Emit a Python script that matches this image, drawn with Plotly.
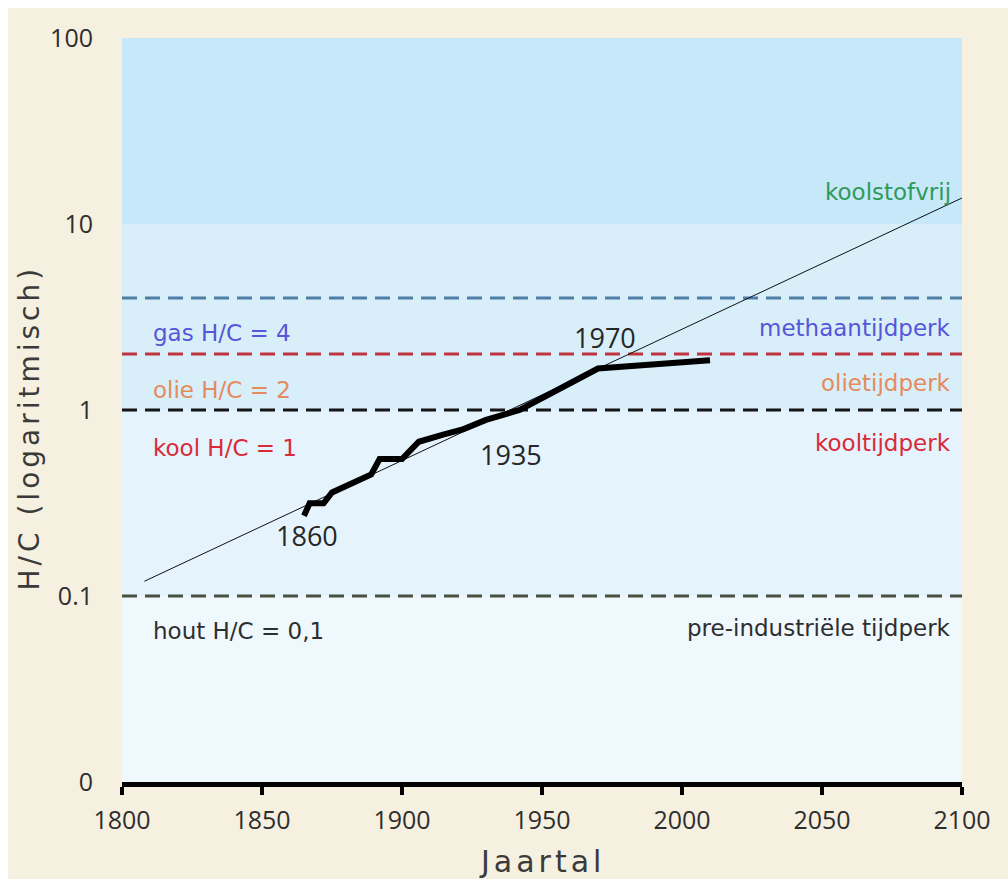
import numpy as np
import plotly.graph_objects as go

# Historical hydrogen/carbon ratio of the fuel mix
years = [1865, 1867, 1872, 1875, 1889, 1892, 1900, 1906, 1915, 1922, 1930, 1942, 1970, 2010]
hc_ratio = [0.27, 0.315, 0.315, 0.36, 0.45, 0.545, 0.545, 0.675, 0.74, 0.79, 0.885, 1.0, 1.67, 1.85]

# Long-term exponential trend (straight on a log axis)
trend_years = [1808, 2100]
trend_hc = [0.12, 13.8]

# Fuel reference levels (H/C)
fuel_levels = [4, 2, 1, 0.1]
fuel_colors = ["#4f7ea6", "#bf3440", "#151515", "#4a5142"]

# Background era bands
band_edges = [0.01, 0.1, 1, 10, 100]
band_colors = ["#eef8fd", "#e4f3fc", "#d8effa", "#c6e8f8"]

x_ticks = [1800, 1850, 1900, 1950, 2000, 2050, 2100]
y_ticks = [0.01, 0.1, 1, 10, 100]
y_tick_text = ["0", "0.1", "1", "10", "100"]

X0, X1 = 1800, 2100

fig = go.Figure()

for lo, hi, col in zip(band_edges[:-1], band_edges[1:], band_colors):
    fig.add_trace(go.Scatter(
        x=[X0, X1, X1, X0, X0], y=[lo, lo, hi, hi, lo],
        fill="toself", fillcolor=col, mode="lines",
        line=dict(width=0, color=col), hoverinfo="skip"))

for lvl, col in zip(fuel_levels, fuel_colors):
    fig.add_trace(go.Scatter(
        x=[X0, X1], y=[lvl, lvl], mode="lines",
        line=dict(color=col, width=3, dash="15px,8px"), hoverinfo="skip"))

fig.add_trace(go.Scatter(x=trend_years, y=trend_hc, mode="lines",
                         line=dict(color="#111111", width=1)))

fig.add_trace(go.Scatter(x=years, y=hc_ratio, mode="lines",
                         line=dict(color="#000000", width=6)))

LABEL_FONT = "DejaVu Sans"
NUM_FONT = "Open Sans"


def right_label(text, ylog, color):
    fig.add_annotation(x=1, xref="paper", xanchor="right", xshift=-9,
                       y=ylog, yref="y", yanchor="middle", text=text,
                       showarrow=False, font=dict(family=LABEL_FONT, size=23, color=color))


def left_label(text, ylog, color):
    fig.add_annotation(x=1810.5, xref="x", xanchor="left",
                       y=ylog, yref="y", yanchor="middle", text=text,
                       showarrow=False, font=dict(family=LABEL_FONT, size=23, color=color))


right_label("koolstofvrij", 1.172, "#2f9a5a")
right_label("methaantijdperk", 0.441, "#5656d8")
right_label("olietijdperk", 0.145, "#e58a5e")
right_label("kooltijdperk", -0.177, "#d92a3a")
right_label("pre-industriële tijdperk", -1.172, "#2e2e2e")

left_label("gas H/C = 4", 0.414, "#5656d8")
left_label("olie H/C = 2", 0.108, "#e58a5e")
left_label("kool H/C = 1", -0.204, "#d92a3a")
left_label("hout H/C = 0,1", -1.188, "#2e2e2e")

for txt, xv, yl in [("1860", 1866, -0.677), ("1935", 1939, -0.237), ("1970", 1972.5, 0.392)]:
    fig.add_annotation(x=xv, y=yl, xref="x", yref="y", text=txt, showarrow=False,
                       font=dict(family=NUM_FONT, size=27, color="#262626"))

# Axis titles
fig.add_annotation(x=(10 - 122) / 840, xref="paper", xanchor="left",
                   y=(782 - 428) / 744, yref="paper", yanchor="middle",
                   text='<span style="letter-spacing:4px">H/C (logaritmisch)</span>',
                   textangle=-90, showarrow=False,
                   font=dict(family=LABEL_FONT, size=28, color="#3a3a3a"))
fig.add_annotation(x=0.5, xref="paper", xanchor="center",
                   y=(782 - 862) / 744, yref="paper", yanchor="middle",
                   text='<span style="letter-spacing:4px">Jaartal</span>',
                   showarrow=False,
                   font=dict(family=LABEL_FONT, size=30, color="#3a3a3a"))

# Thin white frame along the top and left edges
fig.add_shape(type="rect", xref="paper", yref="paper", x0=-0.2, x1=(8 - 122) / 840,
              y0=-0.3, y1=1.2, fillcolor="#ffffff", line=dict(width=0), layer="above")
fig.add_shape(type="rect", xref="paper", yref="paper", x0=-0.2, x1=1.2,
              y0=(782 - 8) / 744, y1=1.2, fillcolor="#ffffff", line=dict(width=0), layer="above")

fig.update_xaxes(range=[X0, X1], tickvals=x_ticks, showgrid=False, zeroline=False,
                 showline=True, linewidth=5, linecolor="#000000",
                 ticks="outside", ticklen=8, tickwidth=4, tickcolor="#000000",
                 ticklabelstandoff=4,
                 tickfont=dict(family=NUM_FONT, size=25, color="#2e2e2e"))
fig.update_yaxes(type="log", range=[-2, 2], tickvals=y_ticks, ticktext=y_tick_text,
                 showgrid=False, zeroline=False, showline=False, ticks="",
                 ticklabelstandoff=28,
                 tickfont=dict(family=NUM_FONT, size=25, color="#2e2e2e"))

fig.update_layout(width=1008, height=879, margin=dict(l=122, r=46, t=38, b=97),
                  paper_bgcolor="#f6f0e0", plot_bgcolor="#eef8fd", showlegend=False)

fig.write_html("out.html")
